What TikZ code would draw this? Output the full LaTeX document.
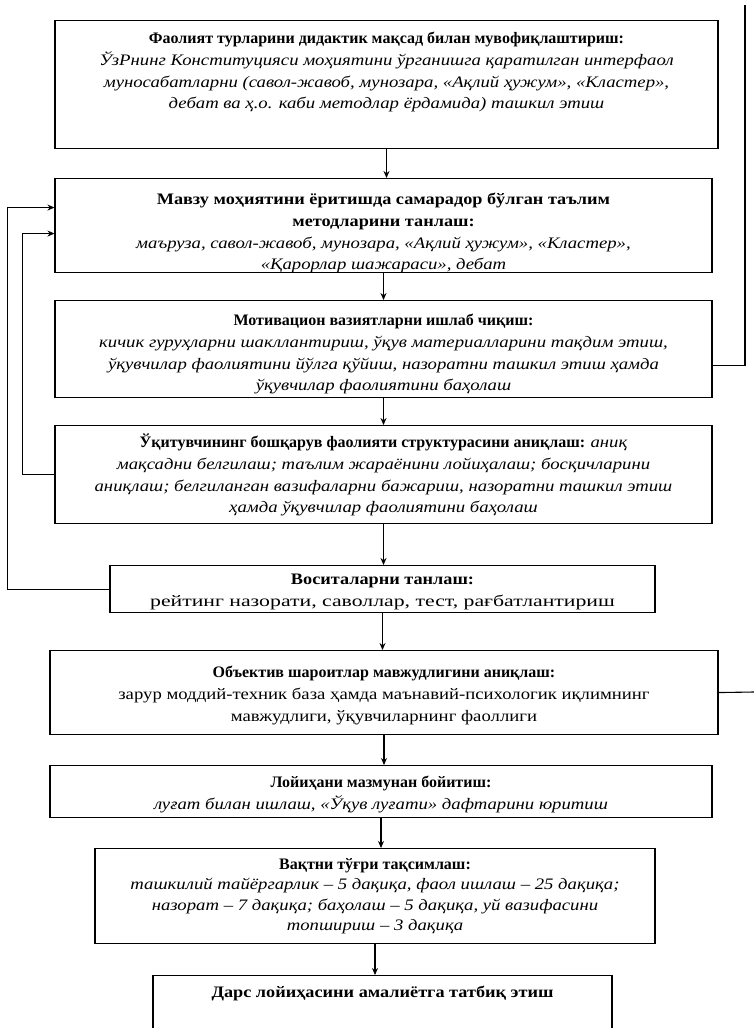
\documentclass[tikz,border=0pt]{standalone}
\usepackage{fontspec}
\setmainfont{Liberation Serif}
\newfontfamily\fB[FakeStretch=1.0]{Liberation Serif}
\newfontfamily\fBw[FakeStretch=1.14]{Liberation Serif}
\newfontfamily\fI[FakeStretch=1.17]{Liberation Serif}
\newfontfamily\fR[FakeStretch=1.17]{Liberation Serif}
\newfontfamily\fRw[FakeStretch=1.36]{Liberation Serif}
\newcommand{\hB}[1]{{\fB\bfseries #1}}
\newcommand{\hBw}[1]{{\fBw\bfseries #1}}
\newcommand{\hI}[1]{{\fI\itshape #1}}
\newcommand{\hR}[1]{{\fR #1}}
\newcommand{\hRw}[1]{{\fRw #1}}
\usetikzlibrary{arrows.meta,calc}
\begin{document}
\begin{tikzpicture}[x=1pt,y=1pt,
  box/.style={draw,line width=1.1pt,rectangle,inner sep=0pt},
  txt/.style={anchor=north,inner sep=0pt,align=center,font=\fontsize{16}{21.7}\selectfont},
  conn/.style={line width=1.1pt},
  arr/.style={line width=1.1pt,-{Stealth[length=7pt,width=6pt]}}]
\clip (0,0) rectangle (754,-1028);
\fill[white] (0,0) rectangle (754,-1028);
% boxes
\node[box,minimum width=663pt,minimum height=128pt,anchor=north] (b1) at (386.5,-20) {};
\node[box,minimum width=657pt,minimum height=94pt,anchor=north] (b2) at (383.5,-178) {};
\node[box,minimum width=657pt,minimum height=97pt,anchor=north] (b3) at (383.5,-300) {};
\node[box,minimum width=657pt,minimum height=98pt,anchor=north] (b4) at (383.5,-425) {};
\node[box,minimum width=545pt,minimum height=47pt,anchor=north] (b5) at (382.5,-565) {};
\node[box,minimum width=668pt,minimum height=84pt,anchor=north] (b6) at (384,-650) {};
\node[box,minimum width=662pt,minimum height=52pt,anchor=north] (b7) at (381,-765) {};
\node[box,minimum width=560pt,minimum height=95pt,anchor=north] (b8) at (375,-848) {};
\node[box,minimum width=459pt,minimum height=90pt,anchor=north] (b9) at (382.5,-975) {};
% texts
\node[txt] (t1) at ([yshift=-12pt]b1.north) {\hB{Фаолият турларини дидактик мақсад билан мувофиқлаштириш:}\\
\hI{ЎзРнинг Конституцияси моҳиятини ўрганишга қаратилган интерфаол}\\
\hI{муносабатларни (савол-жавоб, мунозара, «Ақлий ҳужум», «Кластер»,}\\
\hI{дебат ва ҳ.о. каби методлар ёрдамида) ташкил этиш}};
\node[txt] (t2) at ([yshift=-15pt]b2.north) {\hBw{Мавзу моҳиятини ёритишда самарадор бўлган таълим}\\
\hBw{методларини танлаш:}\\
\hI{маъруза, савол-жавоб, мунозара, «Ақлий ҳужум», «Кластер»,}\\
\hI{«Қарорлар шажараси», дебат}};
\node[txt] (t3) at ([yshift=-14pt]b3.north) {\hB{Мотивацион вазиятларни ишлаб чиқиш:}\\
\hI{кичик гуруҳларни шакллантириш, ўқув материалларини тақдим этиш,}\\
\hI{ўқувчилар фаолиятини йўлга қўйиш, назоратни ташкил этиш ҳамда}\\
\hI{ўқувчилар фаолиятини баҳолаш}};
\node[txt] (t4) at ([yshift=-9pt]b4.north) {\hB{Ўқитувчининг бошқарув фаолияти структурасини аниқлаш:} \hI{аниқ}\\
\hI{мақсадни белгилаш; таълим жараёнини лойиҳалаш; босқичларини}\\
\hI{аниқлаш; белгиланган вазифаларни бажариш, назоратни ташкил этиш}\\
\hI{ҳамда ўқувчилар фаолиятини баҳолаш}};
\node[txt] (t5) at ([yshift=-9pt]b5.north) {\hBw{Воситаларни танлаш:}\\
\hRw{рейтинг назорати, саволлар, тест, рағбатлантириш}};
\node[txt] (t6) at ([yshift=-16pt]b6.north) {\hB{Объектив шароитлар мавжудлигини аниқлаш:}\\
\hR{зарур моддий-техник база ҳамда маънавий-психологик иқлимнинг}\\
\hR{мавжудлиги, ўқувчиларнинг фаоллиги}};
\node[txt] (t7) at ([yshift=-11pt]b7.north) {\hB{Лойиҳани мазмунан бойитиш:}\\
\hI{луғат билан ишлаш, «Ўқув луғати» дафтарини юритиш}};
\node[txt,font=\fontsize{16}{20.5}\selectfont] (t8) at ([yshift=-10pt]b8.north) {\hB{Вақтни тўғри тақсимлаш:}\\
\hI{ташкилий тайёргарлик – 5 дақиқа, фаол ишлаш – 25 дақиқа;}\\
\hI{назорат – 7 дақиқа; баҳолаш – 5 дақиқа, уй вазифасини}\\
\hI{топшириш – 3 дақиқа}};
\node[txt] (t9) at ([yshift=-11pt]b9.north) {\hBw{Дарс лойиҳасини амалиётга татбиқ этиш}};
% vertical arrows
\draw[arr] (b1.south) -- (b1.south |- b2.north);
\draw[arr] (b2.south) -- (b2.south |- b3.north);
\draw[arr] (b3.south) -- (b3.south |- b4.north);
\draw[arr] (b4.south) -- (b4.south |- b5.north);
\draw[arr] (b5.south) -- (b5.south |- b6.north);
\draw[arr] (b6.south) -- (b6.south |- b7.north);
\draw[arr] (b7.south) -- (b7.south |- b8.north);
\draw[arr] (b8.south) -- (b8.south |- b9.north);
% right connectors
\coordinate (topend) at (745,-5);
\coordinate (rightend) at (754,-692);
\draw[conn] ([yshift=-16pt]b3.east) -| (topend);
\draw[conn] (b6.east) -- (rightend);
% left feedback
\draw[arr] (b5.west) -- ++(-102,0) |- ([yshift=18pt]b2.west);
\draw[arr] (b4.west) -- ++(-32,0) |- ([yshift=-8pt]b2.west);
\end{tikzpicture}
\end{document}
